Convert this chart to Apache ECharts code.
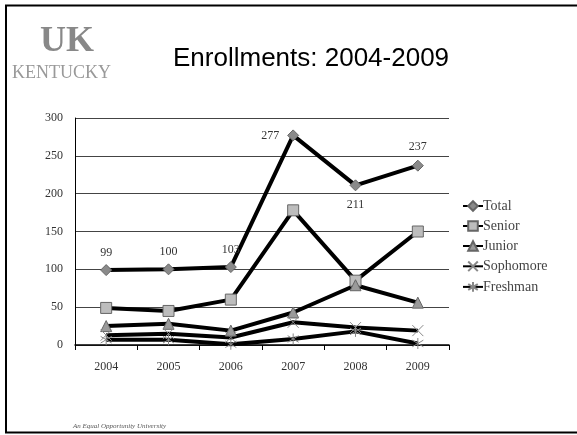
<!DOCTYPE html>
<html><head><meta charset="utf-8">
<script src="https://cdn.jsdelivr.net/npm/echarts@6/dist/echarts.min.js"></script>
<style>html,body{margin:0;padding:0;background:#fff}#c{width:577px;height:435px}</style>
</head><body><div id="c"></div>
<script>
const years = ['2004','2005','2006','2007','2008','2009'];
const total = [99, 100, 103, 277, 211, 237];
const senior = [49, 45, 60, 178, 85, 150];
const junior = [25, 28, 19, 43, 79, 56];
const sophomore = [13, 15, 10, 30, 23, 19];
const freshman = [7, 7, 1, 8, 18, 2];
const yTicks = [0, 50, 100, 150, 200, 250, 300];

const chart = echarts.init(document.getElementById('c'), null, {renderer: 'canvas'});
const serif = 'Liberation Serif';
const labelPos = ['top', 'top', 'top', 'left', 'bottom', 'top'];
const labelDist = [5, 5, 5, 8, 8, 7];

function mk(name, data, symbol, size, color, extra) {
  return Object.assign({
    name, type: 'line', data, symbol, symbolSize: size,
    lineStyle: {color: '#000', width: 4},
    itemStyle: {color: color, borderColor: '#666', borderWidth: 1},
    emphasis: {disabled: true}, z: 3
  }, extra || {});
}

chart.setOption({
  animation: false,
  backgroundColor: '#fff',
  grid: {left: 75, right: 128, top: 118, bottom: 90},
  legend: {
    orient: 'vertical', left: 457, top: 194, itemGap: 6, itemWidth: 20, itemHeight: 12,
    textStyle: {fontFamily: serif, fontSize: 14, color: '#444', padding: [0,0,0,-5]},
    data: ['Total', 'Senior', 'Junior', 'Sophomore', 'Freshman']
  },
  xAxis: {
    type: 'category', data: years, boundaryGap: true,
    axisLine: {lineStyle: {color: '#000', width: 1.5}},
    axisTick: {show: true, length: 5, lineStyle: {color: '#000'}},
    axisLabel: {fontFamily: serif, fontSize: 12, color: '#333', margin: 16}
  },
  yAxis: {
    type: 'value', min: yTicks[0], max: yTicks[yTicks.length - 1], interval: 50,
    axisLine: {show: true, lineStyle: {color: '#000', width: 1}},
    axisTick: {show: false},
    splitLine: {lineStyle: {color: '#444', width: 1}},
    axisLabel: {fontFamily: serif, fontSize: 12, color: '#333', margin: 12}
  },
  series: [
    mk('Total', total.map((v, i) => ({value: v, label: {position: labelPos[i], distance: labelDist[i]}})), 'diamond', 11, '#8a8a8a', {
      label: {show: true, fontFamily: serif, fontSize: 12, color: '#333'}
    }),
    mk('Senior', senior, 'rect', 11, '#bdbdbd'),
    mk('Junior', junior, 'triangle', 11, '#9a9a9a'),
    mk('Sophomore', sophomore, 'path://M0,0L10,10M10,0L0,10', 11, '#000', {itemStyle: {color: 'none', borderColor: '#888', borderWidth: 1}}),
    mk('Freshman', freshman, 'path://M5,0L5,10M0,2L10,8M10,2L0,8', 11, '#000', {itemStyle: {color: 'none', borderColor: '#888', borderWidth: 1}})
  ],
  graphic: [
    {type: 'polyline', shape: {points: [[600, 5.5], [6, 5.5], [6, 432.5], [600, 432.5]]}, style: {fill: 'none', stroke: '#000', lineWidth: 2}, z: 10},
    {type: 'text', left: 40, top: 24, style: {text: 'UK', font: 'bold 36px "Liberation Serif"', fill: '#888'}},
    {type: 'text', left: 12, top: 64, style: {text: 'KENTUCKY', font: '18px "Liberation Serif"', fill: '#999'}},
    {type: 'text', left: 173, top: 46, style: {text: 'Enrollments: 2004-2009', font: '26px "Liberation Sans"', fill: '#000'}},
    {type: 'text', left: 73, top: 423, style: {text: 'An Equal Opportunity University', font: 'italic 7px "Liberation Serif"', fill: '#555'}}
  ]
});
</script></body></html>
